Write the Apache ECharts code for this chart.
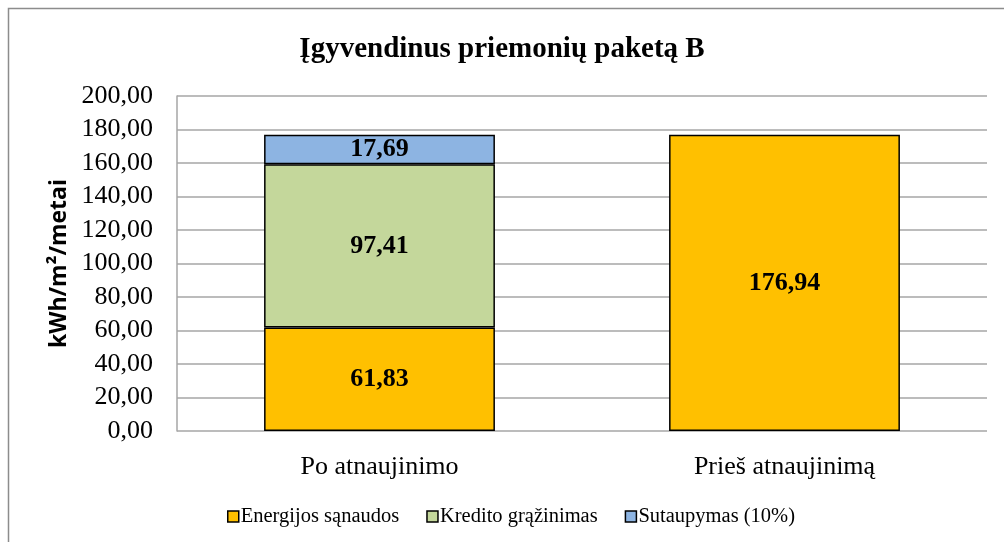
<!DOCTYPE html>
<html>
<head>
<meta charset="utf-8">
<script src="https://cdn.jsdelivr.net/npm/echarts@6/dist/echarts.min.js"></script>
<style>
  html, body { margin: 0; padding: 0; background: #fff; }
  #chart { width: 1004px; height: 542px; }
</style>
</head>
<body>
<div id="chart"></div>
<script>
const categories = ['Po atnaujinimo', 'Prieš atnaujinimą'];
const seriesNames = ['Energijos sąnaudos', 'Kredito grąžinimas', 'Sutaupymas (10%)'];
const energija = [61.83, 176.94];
const kreditas = [97.41, null];
const sutaupymas = [17.69, null];
const colors = ['#FFC000', '#C4D79B', '#8DB4E2'];

const serif = 'Liberation Serif, Times New Roman, serif';
const fmt = v => v.toFixed(2).replace('.', ',');

let chart = echarts.init(document.getElementById('chart'));

function barSeries(name, data, color) {
  return {
    name: name,
    type: 'bar',
    stack: 'total',
    barWidth: '57%',
    data: data,
    itemStyle: { color: color, borderColor: '#000', borderWidth: 1.5 },
    label: {
      show: true,
      position: 'inside',
      formatter: p => fmt(p.value),
      fontFamily: serif,
      fontWeight: 'bold',
      fontSize: 26,
      color: '#000'
    }
  };
}

chart.setOption({
  animation: false,
  graphic: [{
    type: 'rect',
    shape: { x: 8.5, y: 8.5, width: 1010, height: 560 },
    style: { fill: 'none', stroke: '#8c8c8c', lineWidth: 1.5 },
    silent: true
  }],
  title: {
    text: 'Įgyvendinus priemonių paketą B',
    left: 'center',
    top: 30,
    textStyle: { fontFamily: serif, fontWeight: 'bold', fontSize: 29, color: '#000' }
  },
  legend: {
    data: seriesNames,
    bottom: 10,
    left: 222,
    itemWidth: 11,
    itemHeight: 11,
    itemGap: 27,
    icon: 'rect',
    textStyle: { fontFamily: serif, fontSize: 20.5, color: '#000', padding: [0, 0, 0, -3] },
    itemStyle: { borderColor: '#000', borderWidth: 1.5 }
  },
  grid: { left: 177, right: 17, top: 96, bottom: 111 },
  xAxis: {
    type: 'category',
    data: categories,
    axisLine: { show: false },
    axisTick: { show: false },
    axisLabel: { fontFamily: serif, fontSize: 26, color: '#000', margin: 23 }
  },
  yAxis: {
    type: 'value',
    min: 0, max: 200, interval: 20,
    name: 'kWh/m²/metai',
    nameLocation: 'middle',
    nameGap: 104,
    nameTextStyle: { fontFamily: 'Open Sans, sans-serif', fontWeight: 'bold', fontSize: 23, color: '#000' },
    axisLine: { show: true, lineStyle: { color: '#a6a6a6', width: 1.5 } },
    axisTick: { show: false },
    splitLine: { lineStyle: { color: '#a6a6a6', width: 1.5 } },
    axisLabel: { fontFamily: serif, fontSize: 26, color: '#000', margin: 24, formatter: v => fmt(v) }
  },
  series: [
    barSeries(seriesNames[0], energija, colors[0]),
    barSeries(seriesNames[1], kreditas, colors[1]),
    barSeries(seriesNames[2], sutaupymas, colors[2])
  ]
});
</script>
</body>
</html>
